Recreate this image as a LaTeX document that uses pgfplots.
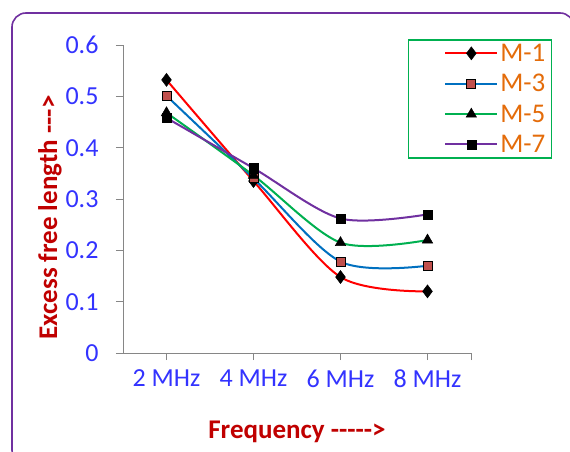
\documentclass[border=0pt]{standalone}
\usepackage{pgfplots}
\pgfplotsset{compat=1.18}
\usepackage{fontspec}
\setmainfont{Carlito}
\definecolor{tickblue}{HTML}{3333FF}
\definecolor{labred}{HTML}{C00000}
\definecolor{legorange}{HTML}{E46C0A}
\definecolor{leggreen}{HTML}{00B050}
\definecolor{axgray}{HTML}{868686}
\definecolor{framepurple}{HTML}{7030A0}
\definecolor{sblue}{HTML}{0070C0}
\definecolor{sgreen}{HTML}{00B050}
\definecolor{spurple}{HTML}{7030A0}
\definecolor{sqred}{HTML}{C0504D}
\begin{document}
\begin{tikzpicture}
\useasboundingbox (0,0) rectangle (570bp,452bp);
\fill[white] (0,0) rectangle (570bp,452bp);
\draw[framepurple, line width=1.6bp, rounded corners=14bp] (12bp,-12bp) rectangle (574bp,439bp);
\begin{axis}[
  at={(123bp,99bp)}, anchor=south west,
  scale only axis, width=348bp, height=308bp,
  xmin=-0.5, xmax=3.5, ymin=0, ymax=0.6,
  axis x line*=bottom, axis y line*=left,
  axis line style={axgray, line width=1bp},
  xtick={0,1,2,3,3.5}, xticklabels={2 MHz,4 MHz,6 MHz,8 MHz,},
  ytick={0,0.1,0.2,0.3,0.4,0.5,0.6},
  yticklabels={0,0.1,0.2,0.3,0.4,0.5,0.6},
  tick style={axgray, line width=1bp},
  tick align=outside,
  major tick length=7bp,
  ticklabel style={font=\fontsize{26bp}{30bp}\selectfont, text=tickblue},
  yticklabel style={xshift=-14bp},
  xticklabel style={yshift=-6bp},
  /pgf/number format/assume math mode=true,
  xlabel={\textbf{Frequency -{}-{}-{}-{}-{}>}},
  ylabel={\textbf{Excess free length -{}-{}-{}>}},
  label style={font=\fontsize{27bp}{30bp}\selectfont, text=labred},
  xlabel style={at={(axis description cs:0.5,0)}, anchor=center, yshift=-79bp},
  ylabel style={at={(axis description cs:-0.21,0.44)}, anchor=center},
  clip=false,
  legend style={at={(axis description cs:1.233,1.019)}, anchor=north east,
    draw=leggreen, line width=1.5bp, fill=white,
    font=\fontsize{27bp}{27bp}\selectfont, text=legorange,
    row sep=7.5bp, inner xsep=4bp, inner ysep=2bp},
  legend cell align=left,
  legend image code/.code={
    \path (-8bp,0bp);
    \draw[mark repeat=2,mark phase=2] plot coordinates {(24bp,0bp) (50bp,0bp) (76bp,0bp)};
  },
  every axis plot/.append style={line width=2bp, smooth, tension=0.5},
]
\addplot[red, mark=diamond*, mark size=6.5bp, mark options={fill=black, draw=black, line width=0.5bp}]
  coordinates {(0,0.532) (1,0.335) (2,0.148) (3,0.120)};
\addplot[sblue, mark=square*, mark size=4.5bp, mark options={fill=sqred, draw=black, line width=1bp}]
  coordinates {(0,0.501) (1,0.340) (2,0.178) (3,0.170)};
\addplot[sgreen, mark=triangle*, mark size=6bp, mark options={fill=black, draw=black, line width=0.5bp}]
  coordinates {(0,0.468) (1,0.346) (2,0.215) (3,0.220)};
\addplot[spurple, mark=square*, mark size=4.5bp, mark options={fill=black, draw=black, line width=0.5bp}]
  coordinates {(0,0.458) (1,0.360) (2,0.262) (3,0.270)};
\legend{M-1,M-3,M-5,M-7}
\end{axis}
\end{tikzpicture}
\end{document}
